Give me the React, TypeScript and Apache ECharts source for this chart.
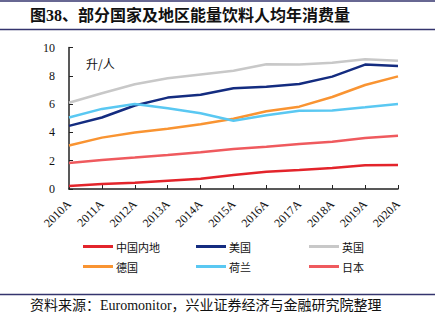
import React, { useEffect, useRef } from "react";
import * as echarts from "echarts";

const categories = ["2010A", "2011A", "2012A", "2013A", "2014A", "2015A", "2016A", "2017A", "2018A", "2019A", "2020A"];
const chinaMainland = [0.21, 0.35, 0.45, 0.59, 0.73, 0.99, 1.22, 1.34, 1.48, 1.67, 1.7];
const usa = [4.46, 5.05, 5.9, 6.46, 6.66, 7.12, 7.23, 7.42, 7.94, 8.79, 8.69];
const uk = [6.1, 6.77, 7.4, 7.83, 8.1, 8.36, 8.81, 8.8, 8.93, 9.17, 9.07];
const germany = [3.07, 3.63, 4.0, 4.25, 4.57, 4.97, 5.49, 5.82, 6.5, 7.35, 7.96];
const netherlands = [5.05, 5.66, 6.01, 5.7, 5.35, 4.83, 5.21, 5.53, 5.55, 5.77, 6.0];
const japan = [1.84, 2.05, 2.22, 2.4, 2.59, 2.83, 2.99, 3.18, 3.34, 3.6, 3.77];

const seriesNames = ["中国内地", "美国", "英国", "德国", "荷兰", "日本"];
const seriesData = [chinaMainland, usa, uk, germany, netherlands, japan];
const colors = ["#E3242B", "#142C80", "#C8C8C8", "#F99432", "#5AC8F2", "#EF5A5E"];

const yTicks = { min: 0, max: 10, interval: 2 };

const titleText = "图38、部分国家及地区能量饮料人均年消费量";
const unitText = "升/人";
const sourceText = "资料来源：Euromonitor，兴业证券经济与金融研究院整理";

const FONT = "'Liberation Serif', 'Noto Sans CJK SC', serif";
const CJK = "'Noto Sans CJK SC', 'Liberation Serif', sans-serif";

export default function App() {
  const ref = useRef<HTMLDivElement>(null);
  useEffect(() => {
    if (!ref.current) return;
    const chart = echarts.init(ref.current, null, { renderer: "svg" });
    const legendPos = [
      [83, 241], [196, 241], [309, 241],
      [83, 261], [196, 261], [309, 261],
    ];
    chart.setOption({
      animation: false,
      backgroundColor: "#fff",
      grid: { left: 69, right: 37, top: 47.5, bottom: 140, containLabel: false },
      xAxis: {
        type: "category",
        data: categories,
        boundaryGap: false,
        axisLine: { lineStyle: { color: "#222", width: 1.5 } },
        axisTick: { inside: true, length: 4, alignWithLabel: true, lineStyle: { color: "#222" } },
        axisLabel: { rotate: 45, margin: 13, fontSize: 12, fontFamily: FONT, color: "#111", interval: 0 },
        splitLine: { show: false },
      },
      yAxis: {
        type: "value",
        min: yTicks.min,
        max: yTicks.max,
        interval: yTicks.interval,
        axisLine: { show: true, lineStyle: { color: "#222", width: 1.5 } },
        axisTick: { show: true, inside: true, length: 4, lineStyle: { color: "#222" } },
        axisLabel: { margin: 14, fontSize: 12, fontFamily: FONT, color: "#111" },
        splitLine: { show: false },
      },
      legend: seriesNames.map((n, i) => ({
        data: [n],
        left: legendPos[i][0],
        top: legendPos[i][1],
        padding: 0,
        icon: "rect",
        itemWidth: 30,
        itemHeight: 3,
        itemGap: 0,
        textStyle: { fontSize: 11, fontFamily: CJK, color: "#111", padding: [0, 0, 0, -2] },
        selectedMode: false,
      })),
      series: seriesNames.map((n, i) => ({
        name: n,
        type: "line",
        data: seriesData[i],
        symbol: "none",
        smooth: false,
        color: colors[i],
        lineStyle: { width: 2.5, color: colors[i] },
      })),
      graphic: [
        { type: "line", shape: { x1: 0, y1: 1, x2: 435, y2: 1 }, style: { stroke: "#34346e", lineWidth: 1.5 } },
        { type: "line", shape: { x1: 0, y1: 29.5, x2: 435, y2: 29.5 }, style: { stroke: "#34346e", lineWidth: 1.5 } },
        {
          type: "text", left: 30, top: 7,
          style: { text: titleText, fontSize: 16, fontWeight: "bold", fontFamily: FONT, fill: "#111" },
        },
        {
          type: "text", left: 86, top: 57,
          style: { text: unitText, fontSize: 12, fontFamily: CJK, fill: "#111" },
        },
        { type: "line", shape: { x1: 0, y1: 294.5, x2: 435, y2: 294.5 }, style: { stroke: "#34346e", lineWidth: 1.5 } },
        {
          type: "text", left: 30, top: 298,
          style: { text: sourceText, fontSize: 14, fontFamily: FONT, fill: "#111" },
        },
      ],
    });
    return () => chart.dispose();
  }, []);
  return (
    <div
      ref={ref}
      style={{ position: "fixed", left: 0, top: 0, width: 435, height: 329, background: "#fff" }}
    />
  );
}
